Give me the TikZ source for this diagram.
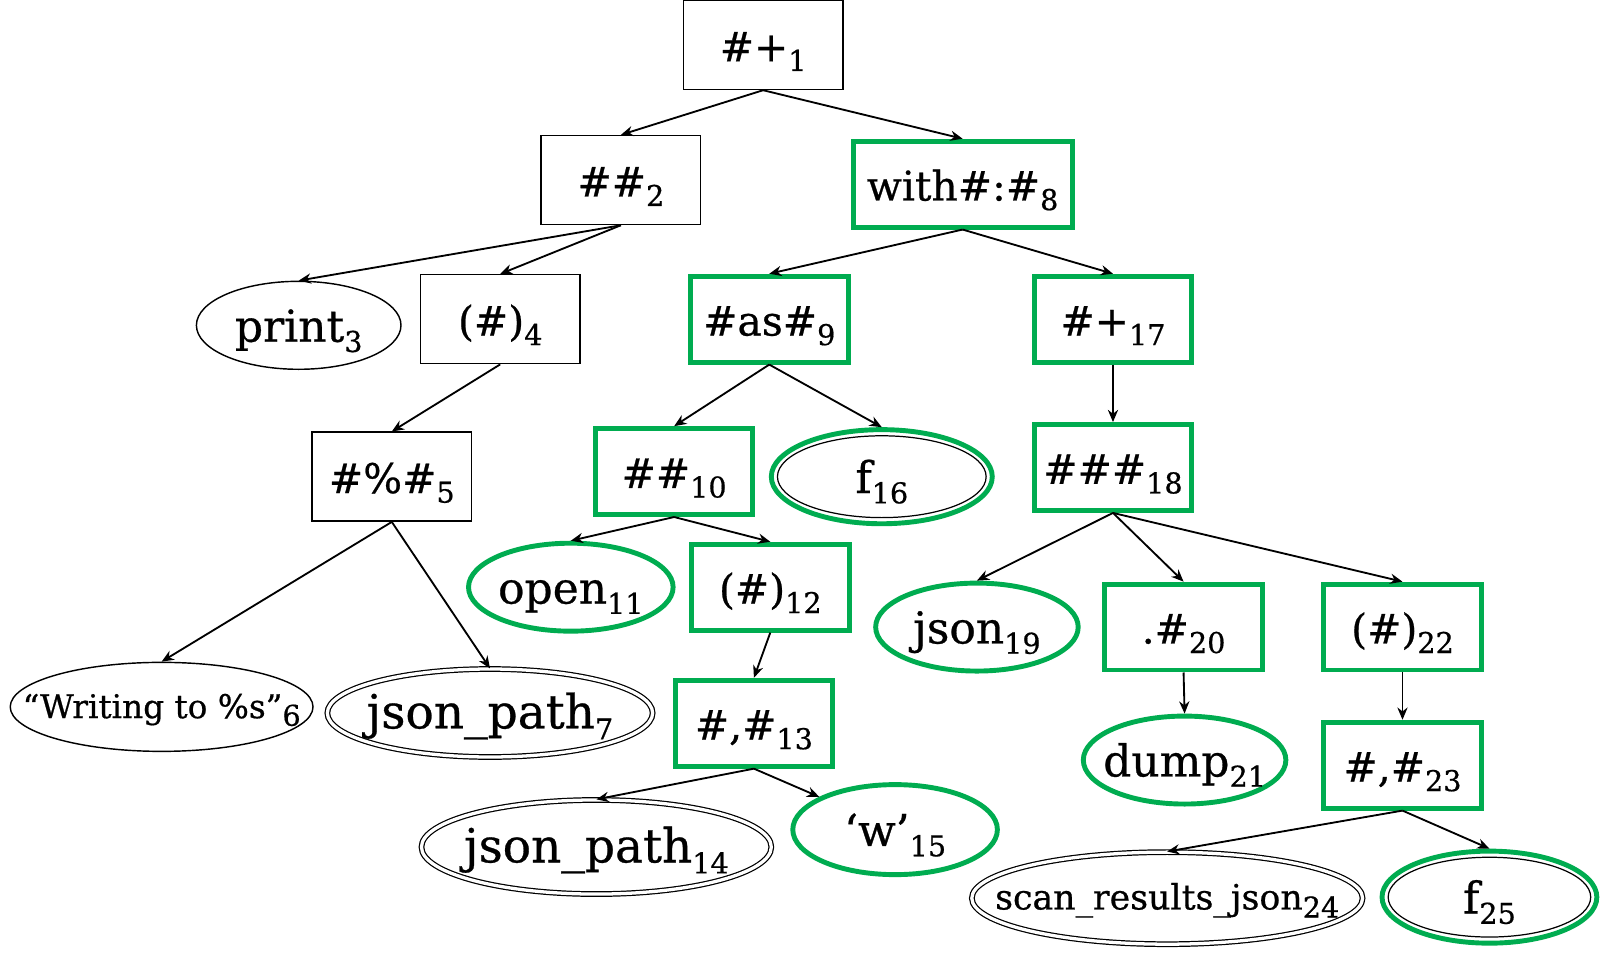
\documentclass[tikz,border=0pt]{standalone}
\usepackage{fontspec}
\setmainfont{DejaVu Serif}[FakeBold=0.6]
\usetikzlibrary{shapes.geometric,arrows.meta}
\definecolor{astgreen}{RGB}{0,172,80}
\newcommand{\ix}[1]{\raisebox{-0.45ex}{\fontsize{14}{14}\selectfont #1}}
\newcommand{\zb}[1]{\makebox[0pt]{#1}}
\begin{document}
\begin{tikzpicture}[x=0.5pt,y=-0.5pt,
  txt/.style={font=\fontsize{20}{22}\selectfont, inner sep=0pt, text height=16pt, text depth=0pt},
  wtxt/.style={font=\fontsize{21.5}{23}\selectfont},
  smalltxt/.style={text height=11pt, text depth=0pt},
  plainbox/.style={txt, rectangle, draw=black, line width=0.7pt, minimum width=78pt, minimum height=43.5pt},
  gbox/.style={txt, rectangle, draw=astgreen, line width=2.4pt, minimum width=77pt, minimum height=42pt},
  plainell/.style={txt, ellipse, draw=black, line width=0.7pt},
  gell/.style={txt, ellipse, draw=astgreen, line width=2.4pt},
  dell/.style={txt, ellipse, draw=black, line width=0.6pt, double=white, double distance=1.6pt},
  edge/.style={-{Stealth[length=6pt,width=5pt]}, line width=0.9pt, black}]
\useasboundingbox (0,0) rectangle (1568,936);
% nodes
\node[plainbox] (n1) at (746,44) {\#+\ix{1}};
\node[plainbox] (n2) at (607,176) {\#\#\ix{2}};
\node[plainell, wtxt, minimum width=100pt, minimum height=43pt] (n3) at (292,318) {\zb{print\ix{3}}};
\node[plainbox] (n4) at (489,312) {(\#)\ix{4}};
\node[plainbox] (n5) at (383,466) {\#\%\#\ix{5}};
\node[plainell, smalltxt, minimum width=148pt, minimum height=43.5pt, font=\fontsize{16}{18}\selectfont] (n6) at (158,691) {\zb{“Writing to \%s”\ix{6}}};
\node[dell, font=\fontsize{23}{25}\selectfont, text height=15pt, minimum width=159pt, minimum height=43pt] (n7) at (479,697) {\zb{json\_path\ix{7}}};
\node[gbox, minimum width=107pt] (n8) at (941,180) {with\#:\#\ix{8}};
\node[gbox] (n9) at (752,312) {\#as\#\ix{9}};
\node[gbox] (n10) at (659,461) {\#\#\ix{10}};
\node[gell, wtxt, minimum width=100pt, minimum height=43pt] (n11) at (558,574) {\zb{open\ix{11}}};
\node[gbox] (n12) at (753,574) {(\#)\ix{12}};
\node[gbox] (n13) at (737,707) {\#,\#\ix{13}};
\node[dell, font=\fontsize{23}{25}\selectfont, text height=15pt, minimum width=171pt, minimum height=46pt] (n14) at (583,828) {\zb{json\_path\ix{14}}};
\node[gell, wtxt, minimum width=100pt, minimum height=44pt] (n15) at (875,811) {\zb{‘w’\ix{15}}};
\node[gell, wtxt, minimum width=108pt, minimum height=46pt] (n16) at (862,466) {\zb{f\ix{16}}};
\draw[black, line width=0.6pt] (n16.center) ellipse [x radius=102, y radius=40];
\node[gbox] (n17) at (1088,312) {\#+\ix{17}};
\node[gbox] (n18) at (1088,457) {\#\#\#\ix{18}};
\node[gell, wtxt, minimum width=99pt, minimum height=43pt] (n19) at (955,613) {\zb{json\ix{19}}};
\node[gbox] (n20) at (1157,613) {.\#\ix{20}};
\node[gell, wtxt, minimum width=99pt, minimum height=43pt] (n21) at (1158,743) {\zb{dump\ix{21}}};
\node[gbox] (n22) at (1371,613) {(\#)\ix{22}};
\node[gbox] (n23) at (1371,748) {\#,\#\ix{23}};
\node[dell, smalltxt, minimum width=191pt, minimum height=45pt, font=\fontsize{17}{19}\selectfont] (n24) at (1141,878) {\zb{scan\_results\_json\ix{24}}};
\node[gell, wtxt, minimum width=105pt, minimum height=45pt] (n25) at (1456,877) {\zb{f\ix{25}}};
\draw[black, line width=0.6pt] (n25.center) ellipse [x radius=99, y radius=39];
% edges
\draw[edge] (n1.south) -- (n2.north);
\draw[edge] (n1.south) -- (n8.north);
\draw[edge] (n2.south) -- (n3.north);
\draw[edge] (n2.south) -- (n4.north);
\draw[edge] (n4.south) -- (n5.north);
\draw[edge] (n5.south) -- (n6.north);
\draw[edge] (n5.south) -- (n7.north);
\draw[edge] (n8.south) -- (n9.north);
\draw[edge] (n8.south) -- (n17.north);
\draw[edge] (n9.south) -- (n10.north);
\draw[edge] (n9.south) -- (n16.north);
\draw[edge] (n10.south) -- (n11.north);
\draw[edge] (n10.south) -- (n12.north);
\draw[edge] (n12.south) -- (n13.north);
\draw[edge] (n13.south) -- (n14.north);
\draw[edge] (n13.south) -- (n15);
\draw[edge] (n17.south) -- (n18.north);
\draw[edge] (n18.south) -- (n19.north);
\draw[edge] (n18.south) -- (n20.north);
\draw[edge] (n18.south) -- (n22.north);
\draw[edge] (n20.south) -- (n21.north);
\draw[edge] (n22.south) -- (n23.north);
\draw[edge] (n23.south) -- (n24.north);
\draw[edge] (n23.south) -- (n25.north);
\end{tikzpicture}
\end{document}
